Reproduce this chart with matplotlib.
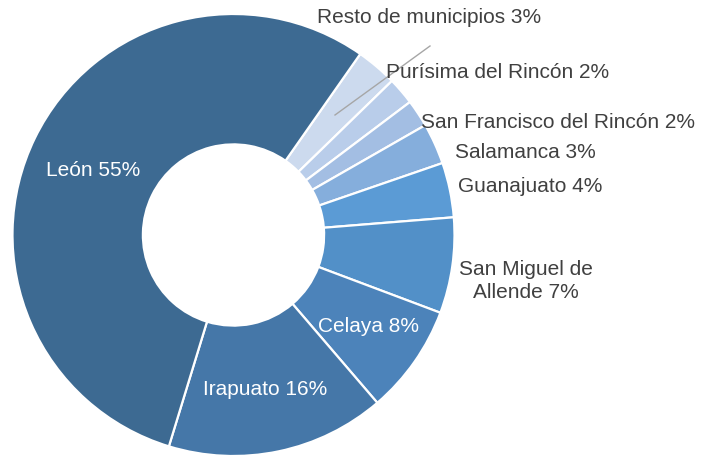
import matplotlib
matplotlib.use("Agg")
import matplotlib.pyplot as plt

plt.rcParams['font.family'] = ['Liberation Sans', 'DejaVu Sans']

# Data (clockwise order starting after León)
categories = ["Resto de municipios", "Purísima del Rincón", "San Francisco del Rincón",
              "Salamanca", "Guanajuato", "San Miguel de\nAllende", "Celaya", "Irapuato", "León"]
values = [3, 2, 2, 3, 4, 7, 8, 16, 55]
colors = ["#CCDAEE", "#B9CDEA", "#A3BEE3", "#85AEDC", "#5B9BD5", "#5290C8",
          "#4C83BA", "#4577A8", "#3D6A92"]

W, H = 701, 456
fig = plt.figure(figsize=(W / 100, H / 100), dpi=100)
ax = fig.add_axes([0, 0, 1, 1])

cx, cy, R = 233.5, H - 236, 221
wedges, _ = ax.pie(values, colors=colors, startangle=55, counterclock=False,
                   center=(cx, cy), radius=R,
                   wedgeprops=dict(width=R * 0.59, edgecolor="white", linewidth=1.6))
ax.set_xlim(0, W)
ax.set_ylim(0, H)
ax.set_aspect('equal')
ax.axis('off')

fs = 15
dark = "#404040"
labels = [f"{c} {v}%" for c, v in zip(categories, values)]
# label positions in pixel coordinates (from top)
pos = [(429, 17, dark), (498, 72, dark), (558, 122, dark), (525, 152, dark),
       (530, 186, dark), (526, 281, dark), (368, 326, "white"), (265, 390, "white"),
       (93, 170, "white")]
for lab, (x, y, col) in zip(labels, pos):
    ax.text(x, H - y, lab, ha="center", va="center", fontsize=fs, color=col,
            linespacing=1.3)

# leader line for Resto de municipios
ax.plot([430, 335], [H - 47, H - 116], color="#A6A6A6", linewidth=1.0)

fig.savefig("out.png", dpi=100)
